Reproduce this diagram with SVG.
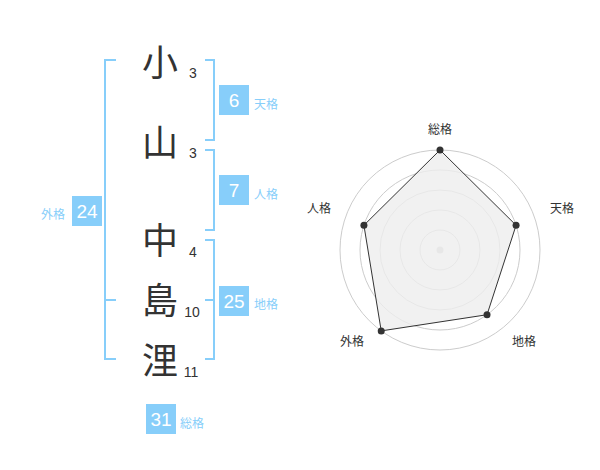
<svg xmlns="http://www.w3.org/2000/svg" width="600" height="470" viewBox="0 0 600 470">
<style>
.k{font-family:"Noto Sans CJK JP","Noto Sans CJK SC",sans-serif;font-size:36px;fill:#333;text-anchor:middle}
.n{font-family:"Liberation Sans",Arial,sans-serif;font-size:14px;fill:#333;text-anchor:middle}
.br{fill:none;stroke:#87cefa;stroke-width:2}
.box{fill:#87cefa}
.bn{font-family:"Liberation Sans",Arial,sans-serif;font-size:19px;fill:#fff;text-anchor:middle}
.bl{font-family:"Noto Sans CJK JP","Noto Sans CJK SC",sans-serif;font-size:12px;fill:#87cefa}
.ring{fill:none;stroke:#cccccc;stroke-width:1}
.rl{font-family:"Noto Sans CJK JP","Noto Sans CJK SC",sans-serif;font-size:12px;fill:#333;text-anchor:middle}
.dot{fill:#333}
</style>
<rect width="600" height="470" fill="#fff"/>
<g id="connectors">
<path class="br" d="M116,60 H105 V359 H116 M105,300 H116"/>
<path class="br" d="M205,60 H214 V140 H205"/>
<path class="br" d="M205,150 H214 V230 H205"/>
<path class="br" d="M205,240 H214 V359 H205 M205,300 H214"/>
</g>
<g id="char-1"><text class="k" x="160" y="76">小</text><text class="n" x="193" y="78">3</text></g>
<g id="char-2"><text class="k" x="160" y="156">山</text><text class="n" x="193" y="158">3</text></g>
<g id="char-3"><text class="k" x="160" y="254">中</text><text class="n" x="193" y="257">4</text></g>
<g id="char-4"><text class="k" x="160" y="314">島</text><text class="n" x="192" y="317">10</text></g>
<g id="char-5"><text class="k" x="160" y="374">浬</text><text class="n" x="191" y="377">11</text></g>
<g id="tenkaku"><rect class="box" x="219" y="85" width="30" height="30"/><text class="bn" x="234" y="107">6</text><text class="bl" x="254" y="109">天格</text></g>
<g id="jinkaku"><rect class="box" x="219" y="175" width="30" height="30"/><text class="bn" x="234" y="197">7</text><text class="bl" x="254" y="199">人格</text></g>
<g id="chikaku"><rect class="box" x="219" y="286" width="30" height="30"/><text class="bn" x="234" y="308">25</text><text class="bl" x="254" y="309">地格</text></g>
<g id="gaikaku"><rect class="box" x="72" y="196" width="30" height="30"/><text class="bn" x="87" y="218">24</text><text class="bl" x="41" y="219">外格</text></g>
<g id="soukaku"><rect class="box" x="146" y="404" width="30" height="30"/><text class="bn" x="161" y="426">31</text><text class="bl" x="180" y="428">総格</text></g>
<g id="radar">
<circle class="ring" cx="440" cy="250" r="20"/>
<circle class="ring" cx="440" cy="250" r="40"/>
<circle class="ring" cx="440" cy="250" r="60"/>
<circle class="ring" cx="440" cy="250" r="80"/>
<circle class="ring" cx="440" cy="250" r="100"/>
<circle cx="440" cy="250" r="3.5" fill="#cccccc"/>
<polygon points="440,150 516.08,225.28 487.02,314.72 381.22,330.9 363.92,225.28" fill="#eeeeee" fill-opacity="0.8" stroke="#333" stroke-width="1"/>
<circle class="dot" cx="440" cy="150" r="3.5"/>
<circle class="dot" cx="516.08" cy="225.28" r="3.5"/>
<circle class="dot" cx="487.02" cy="314.72" r="3.5"/>
<circle class="dot" cx="381.22" cy="330.9" r="3.5"/>
<circle class="dot" cx="363.92" cy="225.28" r="3.5"/>
<text class="rl" x="440" y="134">総格</text>
<text class="rl" x="562" y="213">天格</text>
<text class="rl" x="524" y="346">地格</text>
<text class="rl" x="352" y="346">外格</text>
<text class="rl" x="319" y="213">人格</text>
</g>
</svg>
